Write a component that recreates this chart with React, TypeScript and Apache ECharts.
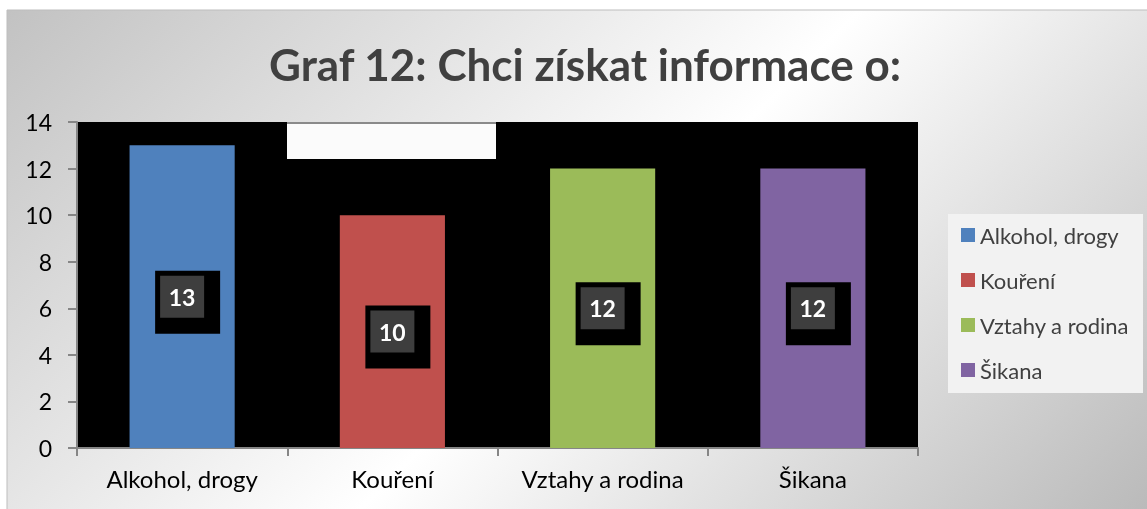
import React, { useEffect, useRef } from "react";
import * as echarts from "echarts";

const categories = ["Alkohol, drogy", "Kouření", "Vztahy a rodina", "Šikana"];
const values = [13, 10, 12, 12];
const colors = ["#4f81bd", "#c0504d", "#9bbb59", "#8064a2"];
const titleText = "Graf 12: Chci získat informace o:";
const FONT = "Lato, 'Open Sans', sans-serif";

export default function App() {
  const ref = useRef<HTMLDivElement>(null);
  useEffect(() => {
    if (!ref.current) return;
    const chart = echarts.init(ref.current, null, { renderer: "svg" });
    const series = categories.map((name, i) => ({
      name,
      type: "bar",
      stack: "all",
      barWidth: "50%",
      itemStyle: { color: colors[i] },
      data: categories.map((_, j) => (j === i ? values[i] : "-")),
      label: {
        show: true,
        position: "inside",
        offset: [5.5, 5.5],
        backgroundColor: "#000",
        padding: [5, 16, 16, 5],
        formatter: (p: any) => `{a|${p.value}}`,
        rich: {
          a: {
            backgroundColor: "#3e3e3e",
            width: 44,
            height: 42,
            lineHeight: 42,
            align: "center",
            color: "#fff",
            fontWeight: "bold",
            fontSize: 23,
            fontFamily: FONT,
          },
        },
      },
    }));
    chart.setOption({
      animation: false,
      graphic: [
        {
          type: "rect",
          z: -10,
          silent: true,
          shape: { x: 7, y: 10, width: 1160, height: 520 },
          style: {
            fill: new echarts.graphic.LinearGradient(
              7, 10, 827, 830,
              [
                { offset: 0, color: "#c2c2c2" },
                { offset: 0.52, color: "#ffffff" },
                { offset: 1, color: "#bababa" },
              ],
              true
            ),
            stroke: "#bdbdbd",
            lineWidth: 1,
          },
        },
        {
          type: "rect",
          z: 10,
          silent: true,
          shape: { x: 287, y: 122, width: 209, height: 37 },
          style: { fill: "#fbfbfb" },
        },
        {
          type: "line",
          z: 11,
          silent: true,
          shape: { x1: 287, y1: 123, x2: 496, y2: 123 },
          style: { stroke: "#8a8a8a", lineWidth: 2 },
        },
        {
          type: "rect",
          z: 10,
          silent: true,
          shape: { x: 948, y: 214, width: 195, height: 179 },
          style: { fill: "#f2f2f2" },
        },
        {
          type: "text",
          z: 10,
          x: 585,
          y: 64,
          style: {
            text: titleText,
            fill: "#404040",
            font: `bold 44px ${FONT}`,
            textAlign: "center",
            textVerticalAlign: "middle",
          },
        },
      ],
      legend: {
        orient: "vertical",
        left: 961,
        top: 224,
        padding: 0,
        itemWidth: 14,
        itemHeight: 14,
        itemGap: 23,
        icon: "rect",
        z: 20,
        textStyle: {
          fontSize: 22,
          color: "#404040",
          fontFamily: FONT,
        },
        data: categories,
      },
      grid: {
        left: 77,
        top: 122,
        right: 229,
        bottom: 61,
        show: true,
        backgroundColor: "#000",
        borderWidth: 0,
      },
      xAxis: {
        type: "category",
        data: categories,
        axisLine: { lineStyle: { color: "#868686", width: 2 } },
        axisTick: { show: true, interval: 0, length: 8, lineStyle: { color: "#868686", width: 2 } },
        axisLabel: { interval: 0, fontSize: 24, color: "#000", fontFamily: FONT, margin: 18 },
      },
      yAxis: {
        type: "value",
        min: 0,
        max: 14,
        interval: 2,
        axisLine: { show: true, lineStyle: { color: "#868686", width: 2 } },
        axisTick: { show: true, length: 9, lineStyle: { color: "#868686", width: 2 } },
        axisLabel: { fontSize: 23, color: "#000", fontFamily: FONT, margin: 25 },
        splitLine: { show: false },
      },
      series,
    });
    return () => chart.dispose();
  }, []);
  return (
    <div
      ref={ref}
      style={{ position: "fixed", left: 0, top: 0, width: 1147, height: 509 }}
    />
  );
}
